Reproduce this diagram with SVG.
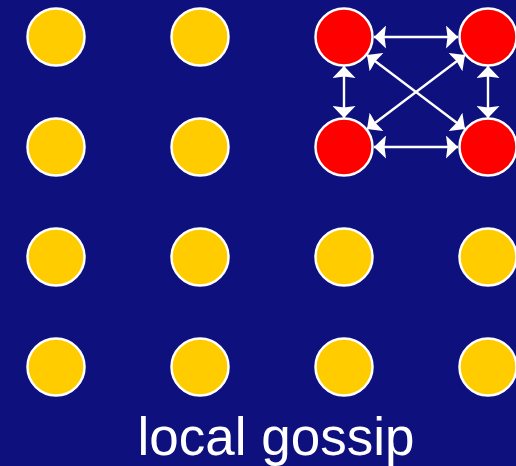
<svg xmlns="http://www.w3.org/2000/svg" width="516" height="466" viewBox="0 0 516 466">
  <style>
    .node { fill: #FFCC00; stroke: #FFFFFF; stroke-width: 2.5; }
    .active { fill: #FF0000; }
    .link { stroke: #FFFFFF; stroke-width: 2.4; fill: none; marker-start: url(#head); marker-end: url(#head); }
    .caption { font-family: "Liberation Sans", Arial, sans-serif; font-size: 53px; fill: #FFFFFF; text-anchor: middle; }
  </style>
  <defs>
    <marker id="head" viewBox="0 -11.5 12 23" refX="12" refY="0" markerWidth="12" markerHeight="23" markerUnits="userSpaceOnUse" orient="auto-start-reverse">
      <path d="M0,-11.5 L12,0 L0,11.5 L1.5,0 z" fill="#FFFFFF"/>
    </marker>
  </defs>

  <rect x="0" y="0" width="516" height="466" fill="#0E107E"/>

  <!-- row 1 -->
  <g id="n-1-1"><circle class="node" cx="56" cy="37" r="28.5"/></g>
  <g id="n-1-2"><circle class="node" cx="200" cy="37" r="28.5"/></g>
  <g id="n-1-3"><circle class="node active" cx="344" cy="37" r="28.5"/></g>
  <g id="n-1-4"><circle class="node active" cx="488" cy="37" r="28.5"/></g>
  <!-- row 2 -->
  <g id="n-2-1"><circle class="node" cx="56" cy="147" r="28.5"/></g>
  <g id="n-2-2"><circle class="node" cx="200" cy="147" r="28.5"/></g>
  <g id="n-2-3"><circle class="node active" cx="344" cy="147" r="28.5"/></g>
  <g id="n-2-4"><circle class="node active" cx="488" cy="147" r="28.5"/></g>
  <!-- row 3 -->
  <g id="n-3-1"><circle class="node" cx="56" cy="257" r="28.5"/></g>
  <g id="n-3-2"><circle class="node" cx="200" cy="257" r="28.5"/></g>
  <g id="n-3-3"><circle class="node" cx="344" cy="257" r="28.5"/></g>
  <g id="n-3-4"><circle class="node" cx="488" cy="257" r="28.5"/></g>
  <!-- row 4 -->
  <g id="n-4-1"><circle class="node" cx="56" cy="367" r="28.5"/></g>
  <g id="n-4-2"><circle class="node" cx="200" cy="367" r="28.5"/></g>
  <g id="n-4-3"><circle class="node" cx="344" cy="367" r="28.5"/></g>
  <g id="n-4-4"><circle class="node" cx="488" cy="367" r="28.5"/></g>

  <!-- pairwise exchanges among the active group -->
  <g id="links">
    <line class="link" x1="374" y1="37" x2="458" y2="37"/>
    <line class="link" x1="374" y1="147" x2="458" y2="147"/>
    <line class="link" x1="344" y1="66" x2="344" y2="118"/>
    <line class="link" x1="488" y1="66" x2="488" y2="118"/>
    <line class="link" x1="367" y1="55" x2="465" y2="129"/>
    <line class="link" x1="465" y1="55" x2="367" y2="129"/>
  </g>

  <text class="caption" x="276" y="455">local gossip</text>
</svg>
